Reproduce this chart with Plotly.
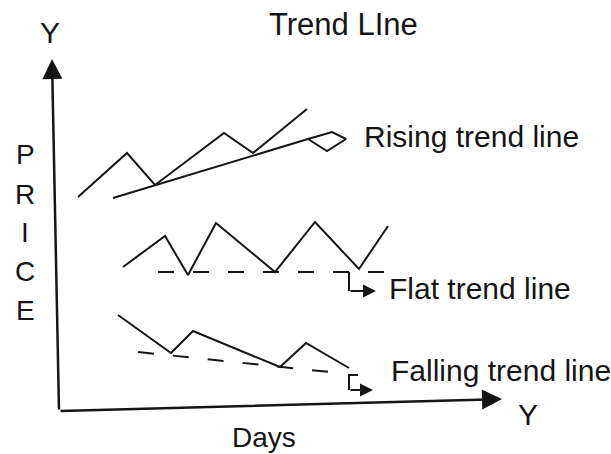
import plotly.graph_objects as go

# ---- data (x = days, y = price; axis origin at 0,0) ----
rising_days = [19, 68, 96, 165, 194, 248]
rising_price = [214, 258, 226, 278, 258, 302]
rising_trend_days = [54, 249]
rising_trend_price = [213, 272]
rising_head_days = [249, 273, 287, 268, 249]
rising_head_price = [272, 279, 272, 260, 272]

flat_days = [64, 106, 129, 157, 216, 256, 300, 329]
flat_price = [144, 175, 136, 188, 139, 189, 142, 185]
flat_trend_days = [99, 331]
flat_trend_price = [139, 139]
flat_call_days = [290, 290, 317]
flat_call_price = [139, 120, 120]

fall_days = [59, 112, 134, 221, 247, 290]
fall_price = [96, 58, 80, 44, 68, 43]
fall_trend_days = [79, 271]
fall_trend_price = [59, 39]
fall_call_days = [299, 290, 290, 314]
fall_call_price = [36, 36, 21, 21]

yaxis_days = [0, -7]
yaxis_price = [0, 352]
xaxis_days = [0, 443]
xaxis_price = [0, 12]

labels = ["Rising trend line", "Flat trend line", "Falling trend line"]
label_days = [303, 328, 330]
label_price = [275, 123, 41]
price_letters = ["P", "R", "I", "C", "E"]
price_letter_y = [257, 217, 179, 140, 101]

INK = "#151515"
FONT = "Liberation Sans, Arial, Helvetica, sans-serif"

fig = go.Figure()

def line(x, y, width=2, dash="solid"):
    fig.add_trace(go.Scatter(x=x, y=y, mode="lines",
                             line=dict(color=INK, width=width, dash=dash),
                             hoverinfo="skip", showlegend=False))

line(rising_days, rising_price)
line(rising_trend_days, rising_trend_price)
line(rising_head_days, rising_head_price)

line(flat_days, flat_price)
line(flat_trend_days, flat_trend_price, dash="16px,19px")
line(flat_call_days[:2], flat_call_price[:2])

line(fall_days, fall_price)
line(fall_trend_days, fall_trend_price, dash="16px,19px")
line(fall_call_days[:3], fall_call_price[:3])

annotations = []

def arrow(x0, y0, x1, y1, width, size):
    annotations.append(dict(x=x1, y=y1, ax=x0, ay=y0, xref="x", yref="y",
                            axref="x", ayref="y", showarrow=True, text="",
                            arrowhead=2, arrowwidth=width, arrowsize=size,
                            arrowcolor=INK))

arrow(yaxis_days[0], yaxis_price[0], yaxis_days[1], yaxis_price[1], 2.5, 1.6)
arrow(xaxis_days[0], xaxis_price[0], xaxis_days[1], xaxis_price[1], 2.5, 1.6)
arrow(flat_call_days[1], flat_call_price[1], flat_call_days[2], flat_call_price[2], 2, 1.3)
arrow(fall_call_days[2], fall_call_price[2], fall_call_days[3], fall_call_price[3], 2, 1.3)

def text(t, x, y, size=30, xanchor="center"):
    annotations.append(dict(x=x, y=y, xref="x", yref="y", text=t, showarrow=False,
                            xanchor=xanchor, yanchor="middle",
                            font=dict(family=FONT, size=size, color=INK)))

text("Trend LIne", 284, 387, 31)
text("Y", -9, 379, 30)
text("Y", 469, -3, 30)
text("Days", 205, -26, 28)
for s, x, y in zip(labels, label_days, label_price):
    text(s, x, y, 30, "left")
for c, y in zip(price_letters, price_letter_y):
    text(c, -34, y, 28)

fig.update_layout(
    width=611, height=454,
    margin=dict(l=0, r=0, t=0, b=0),
    paper_bgcolor="white", plot_bgcolor="white",
    xaxis=dict(range=[-59, 552], visible=False, fixedrange=True),
    yaxis=dict(range=[-43, 411], visible=False, fixedrange=True),
    annotations=annotations,
    showlegend=False,
)

fig.write_html("out.html",
               config={"displayModeBar": False},
               post_script="document.body.style.margin='0';document.body.style.overflow='hidden';")
